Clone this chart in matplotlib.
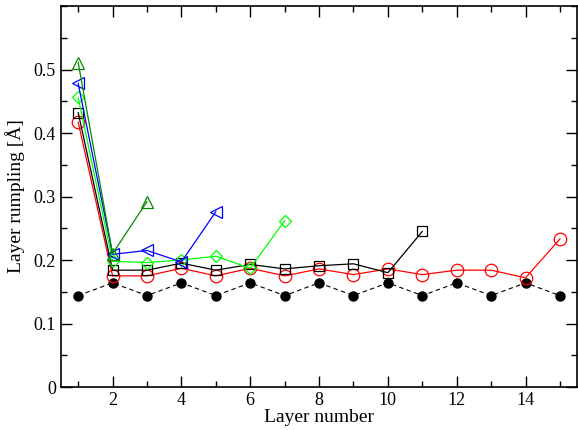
import matplotlib
matplotlib.use("Agg")
import matplotlib.pyplot as plt
from matplotlib.ticker import MultipleLocator

# Datos
layers = list(range(1, 16))

ref_vals = [0.144, 0.164, 0.144, 0.164, 0.144, 0.164, 0.144, 0.164,
            0.144, 0.164, 0.144, 0.164, 0.144, 0.164, 0.144]
red_vals = [0.417, 0.175, 0.175, 0.187, 0.175, 0.187, 0.175, 0.186,
            0.177, 0.186, 0.177, 0.184, 0.184, 0.172, 0.233]
black_vals = [0.432, 0.184, 0.184, 0.195, 0.184, 0.193, 0.186, 0.191,
              0.194, 0.180, 0.245]
lime_vals = [0.456, 0.198, 0.196, 0.200, 0.206, 0.187, 0.262]
blue_vals = [0.478, 0.209, 0.215, 0.197, 0.276]
dgreen_vals = [0.511, 0.210, 0.292]

plt.rcParams["font.family"] = ["Liberation Serif", "DejaVu Serif"]

fig = plt.figure(figsize=(5.78, 4.30), dpi=100)
ax = fig.add_axes([0.1055, 0.1, 0.893, 0.886])

ax.plot(layers, ref_vals, "k--", lw=0.8, marker="o", ms=6.5, dashes=(4, 3))
ax.plot(layers[:len(red_vals)], red_vals, color="red", lw=0.9, marker="o",
        ms=9, mfc="none", mew=0.9)
ax.plot(layers[:len(black_vals)], black_vals, color="black", lw=0.9, marker="s",
        ms=7, mfc="none", mew=0.9)
ax.plot(layers[:len(lime_vals)], lime_vals, color="#00ff00", lw=0.9, marker="D",
        ms=6, mfc="none", mew=0.9)
ax.plot(layers[:len(blue_vals)], blue_vals, color="blue", lw=0.9, marker="<",
        ms=8.5, mfc="none", mew=0.9)
ax.plot(layers[:len(dgreen_vals)], dgreen_vals, color="#008b00", lw=0.9, marker="^",
        ms=8.5, mfc="none", mew=0.9)

ax.set_xlim(0.5, 15.5)
ax.set_ylim(0, 0.6)
ax.xaxis.set_major_locator(MultipleLocator(2))
ax.xaxis.set_minor_locator(MultipleLocator(1))
ax.yaxis.set_major_locator(MultipleLocator(0.1))
ax.yaxis.set_minor_locator(MultipleLocator(0.05))
ax.set_yticks([0, 0.1, 0.2, 0.3, 0.4, 0.5])
ax.set_yticklabels(["0", "0.1", "0.2", "0.3", "0.4", "0.5"])

ax.tick_params(which="both", direction="in", top=True, right=True, labelsize=13)
ax.tick_params(which="major", length=8, width=1)
ax.tick_params(which="minor", length=4, width=1)
for s in ax.spines.values():
    s.set_linewidth(1.2)

ax.set_xlabel("Layer number", fontsize=14, labelpad=0)
ax.set_ylabel("Layer rumpling [Å]", fontsize=14, labelpad=6)

fig.savefig("out.png", dpi=100)
